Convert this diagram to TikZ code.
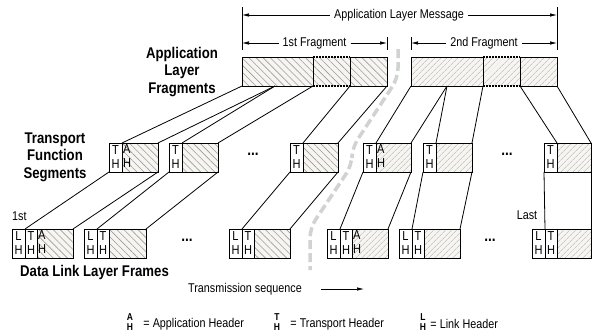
\documentclass[tikz,border=0pt]{standalone}
\usepackage{fontspec}
\setmainfont[FakeStretch=0.85]{Liberation Sans}
\usetikzlibrary{arrows.meta,patterns.meta,positioning}

\definecolor{hatchbg}{RGB}{247,245,242}
\definecolor{hatchA}{RGB}{160,155,150}
\definecolor{hatchB}{RGB}{180,176,170}
\definecolor{seqgray}{RGB}{210,210,210}

\tikzset{
  box/.style={draw, line width=1pt, inner sep=0pt, outer sep=0pt, anchor=north west, minimum height=29pt},
  hdr/.style={box, fill=white, minimum width=13pt, align=center, font=\fontsize{13}{14}\selectfont},
  hdrl/.style={hdr, minimum width=12pt},
  datA/.style={box, preaction={fill=hatchbg}, pattern={Lines[angle=-45,distance=5pt,line width=0.6pt]}, pattern color=hatchA},
  datB/.style={box, preaction={fill=hatchbg}, pattern={Lines[angle=45,distance=4pt,line width=0.5pt]}, pattern color=hatchB},
  apphdr/.style={anchor=north west, inner sep=1pt, align=left, font=\fontsize{13}{14}\selectfont},
  conn/.style={line width=0.8pt},
  edge/.style={line width=1pt},
  fragdot/.style={line width=1.4pt, dash pattern=on 1.5pt off 1.5pt},
  dimline/.style={line width=0.7pt},
  dimlbl/.style={inner sep=4pt, font=\fontsize{12.7}{14}\selectfont},
  lbl/.style={align=center, font=\fontsize{15.5}{17.5}\selectfont\bfseries},
  txt/.style={inner sep=1pt, font=\fontsize{12.7}{14}\selectfont},
  dots/.style={font=\fontsize{16}{16}\selectfont\bfseries},
  lgkey/.style={inner sep=0pt, align=center, font=\fontsize{10}{10.5}\selectfont\bfseries},
  seqpath/.style={draw=seqgray, line width=3.5pt, dash pattern=on 9pt off 4pt, rounded corners=10pt},
  tip/.style={-{Latex[length=7pt,width=3.5pt]}}
}

\begin{document}
\begin{tikzpicture}[x=1pt, y=-1pt]
  \useasboundingbox (0,0) rectangle (592,332);

  % message and fragment dimensions
  \draw[dimline] (242,7) -- (242,50);
  \draw[dimline] (557,7) -- (557,50);
  \draw[dimline] (387,37) -- (387,50);
  \draw[dimline] (411,37) -- (411,50);

  \coordinate (msgL) at (242,15);
  \coordinate (msgR) at (557,15);
  \coordinate (frALeft) at (242,43);
  \coordinate (frARight) at (387,43);
  \coordinate (frBLeft) at (411,43);
  \coordinate (frBRight) at (557,43);

  \node[dimlbl] (msg) at (399,15) {Application Layer Message};
  \node[dimlbl] (frA) at (314.5,43) {1st Fragment};
  \node[dimlbl] (frB) at (484,43) {2nd Fragment};

  \draw[dimline, tip] (msg) -- (msgL);
  \draw[dimline, tip] (msg) -- (msgR);
  \draw[dimline, tip] (frA) -- (frALeft);
  \draw[dimline, tip] (frA) -- (frARight);
  \draw[dimline, tip] (frB) -- (frBLeft);
  \draw[dimline, tip] (frB) -- (frBRight);

  % application layer fragments
  \node[datA, minimum width=71pt] (fa1) at (242,57) {};
  \node[datA, draw=none, minimum width=37pt] (fa2) at (313,57) {};
  \node[datA, minimum width=37pt] (fa3) at (350,57) {};
  \draw[edge] (fa2.north west) -- (fa2.south west) (fa2.north east) -- (fa2.south east);
  \draw[fragdot] (fa2.north west) -- (fa2.north east) (fa2.south west) -- (fa2.south east);

  \node[datB, minimum width=72pt] (fb1) at (411,57) {};
  \node[datB, draw=none, minimum width=37pt] (fb2) at (483,57) {};
  \node[datB, minimum width=37pt] (fb3) at (520,57) {};
  \draw[edge] (fb2.north west) -- (fb2.south west) (fb2.north east) -- (fb2.south east);
  \draw[fragdot] (fb2.north west) -- (fb2.north east) (fb2.south west) -- (fb2.south east);

  \coordinate (fa1m) at (275,86);
  \coordinate (fb1m) at (447,86);

  % transmission order
  \draw[seqpath] (398,49) -- (398,78) -- (352,148) -- (352,165) -- (310,228) -- (310,270);

  % transport function segments
  \node[hdr] (s1t) at (109,143) {T\\H};
  \node[datA, minimum width=36pt] (s1d) at (122,143) {};
  \node[apphdr] (s1a) at (122,143) {A\\H};
  \node[hdr] (s2t) at (169,143) {T\\H};
  \node[datA, minimum width=36pt] (s2d) at (182,143) {};
  \node[hdr] (s3t) at (290,143) {T\\H};
  \node[datA, minimum width=35pt] (s3d) at (303,143) {};
  \node[hdr] (s4t) at (363,143) {T\\H};
  \node[datB, minimum width=35pt] (s4d) at (376,143) {};
  \node[apphdr] (s4a) at (376,143) {A\\H};
  \node[hdr] (s5t) at (423,143) {T\\H};
  \node[datB, minimum width=36pt] (s5d) at (436,143) {};
  \node[hdr] (s6t) at (544,143) {T\\H};
  \node[datB, minimum width=34pt] (s6d) at (557,143) {};

  % data link layer frames
  \node[hdr] (f1l) at (12,229) {L\\H};
  \node[hdrl] (f1t) at (25,229) {T\\H};
  \node[datA, minimum width=36pt] (f1d) at (37,229) {};
  \node[apphdr] (f1a) at (37,229) {A\\H};
  \node[hdr] (f2l) at (84,229) {L\\H};
  \node[hdrl] (f2t) at (97,229) {T\\H};
  \node[datA, minimum width=37pt] (f2d) at (109,229) {};
  \node[hdr] (f3l) at (229,229) {L\\H};
  \node[hdrl] (f3t) at (242,229) {T\\H};
  \node[datA, minimum width=36pt] (f3d) at (254,229) {};
  \node[hdr] (f4l) at (327,229) {L\\H};
  \node[hdrl] (f4t) at (340,229) {T\\H};
  \node[datB, minimum width=36pt] (f4d) at (352,229) {};
  \node[apphdr] (f4a) at (352,229) {A\\H};
  \node[hdr] (f5l) at (399,229) {L\\H};
  \node[hdrl] (f5t) at (412,229) {T\\H};
  \node[datB, minimum width=36pt] (f5d) at (424,229) {};
  \node[hdr] (f6l) at (532,229) {L\\H};
  \node[hdrl] (f6t) at (545,229) {T\\H};
  \node[datB, minimum width=34pt] (f6d) at (557,229) {};

  % fragments to segments
  \draw[conn] (fa1.south west) -- (s1d.north west);
  \draw[conn] (fa1m) -- (s1d.north east);
  \draw[conn] (fa1m) -- (s2d.north west);
  \draw[conn] (fa2.south west) -- (s2d.north east);
  \draw[conn] (fa3.south west) -- (s3d.north west);
  \draw[conn] (fa3.south east) -- (s3d.north east);
  \draw[conn] (fb1.south west) -- (s4d.north west);
  \draw[conn] (fb1m) -- (s4d.north east);
  \draw[conn] (fb1m) -- (s5d.north west);
  \draw[conn] (fb2.south west) -- (s5d.north east);
  \draw[conn] (fb3.south west) -- (s6d.north west);
  \draw[conn] (fb3.south east) -- (s6d.north east);

  % segments to frames
  \draw[conn] (s1t.south west) -- (f1t.north west);
  \draw[conn] (s1d.south east) -- (f1d.north east);
  \draw[conn] (s2t.south west) -- (f2t.north west);
  \draw[conn] (s2d.south east) -- (f2d.north east);
  \draw[conn] (s3t.south west) -- (f3t.north west);
  \draw[conn] (s3d.south east) -- (f3d.north east);
  \draw[conn] (s4t.south west) -- (f4t.north west);
  \draw[conn] (s4d.south east) -- (f4d.north east);
  \draw[conn] (s5t.south west) -- (f5t.north west);
  \draw[conn] (s5d.south east) -- (f5d.north east);
  \draw[conn] (s6t.south west) -- (f6t.north west);
  \draw[conn] (s6d.south east) -- (f6d.north east);

  % elisions
  \node[dots] (dseg1) at (253,154) {...};
  \node[dots] (dseg2) at (507,154) {...};
  \node[dots] (dfrm1) at (187,240) {...};
  \node[dots] (dfrm2) at (490,240) {...};

  % labels
  \node[lbl] (lblfrag) at (182,72) {Application\\Layer\\Fragments};
  \node[lbl] (lblseg) at (55,157) {Transport\\Function\\Segments};
  \node[lbl, anchor=west, inner sep=0pt] (lblfrm) at (20,272) {Data Link Layer Frames};
  \node[txt, anchor=west] (first) at (11,216) {1st};
  \node[txt] (last) at (527,215) {Last};

  \node[txt] (txseq) at (245,289) {Transmission sequence};
  \coordinate (seqend) at (364,289);
  \draw[dimline, tip] ([xshift=18pt]txseq.east) -- (seqend);

  % legend
  \node[lgkey] (keyA) at (130,322) {A\\H};
  \node[txt, anchor=west] (keyAt) at ([xshift=9pt,yshift=-2pt]keyA.east) {= Application Header};
  \node[lgkey] (keyT) at (277,322) {T\\H};
  \node[txt, anchor=west] (keyTt) at ([xshift=9pt,yshift=-2pt]keyT.east) {= Transport Header};
  \node[lgkey] (keyL) at (423,322) {L\\H};
  \node[txt, anchor=west] (keyLt) at ([xshift=3pt,yshift=-2pt]keyL.east) {= Link Header};
\end{tikzpicture}
\end{document}
